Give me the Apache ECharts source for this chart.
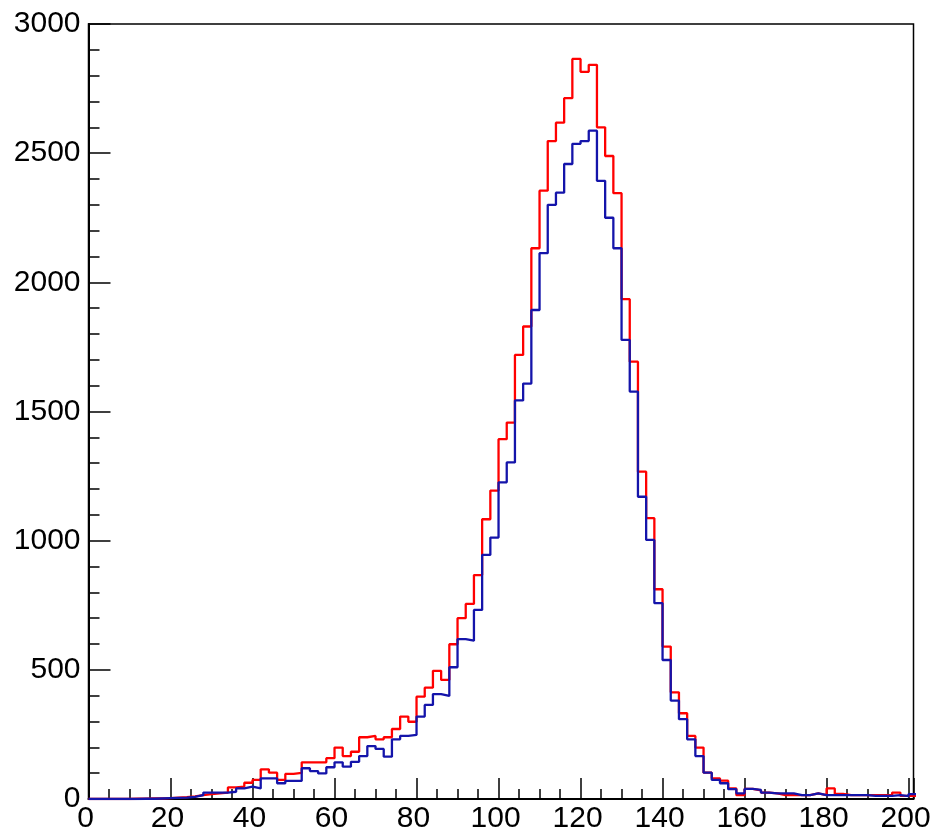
<!DOCTYPE html>
<html>
<head>
<meta charset="utf-8">
<script src="https://cdn.jsdelivr.net/npm/echarts@6/dist/echarts.min.js"></script>
<style>
html,body{margin:0;padding:0;background:#fff;}
#chart{width:932px;height:831px;}
</style>
</head>
<body>
<div id="chart"></div>
<script>
// Bin left edges: 0,2,4,...,200 (bin width 2)
const binWidth = 2;
const redCounts = [
  0,0,0,0,0,1,1,2,2,3,5,7,
  10,15,19,22,25,45,48,63,74,115,102,74,97,101,142,142,142,158,
  199,166,183,239,244,231,239,271,319,299,396,431,496,461,599,700,755,867,1083,1194,
  1393,1457,1719,1829,2132,2355,2547,2618,2713,2865,2815,2842,2600,2489,2345,1935,1693,1267,1087,812,
  590,413,332,244,199,102,80,71,41,15,39,33,25,22,15,15,15,15,22,15,
  41,20,15,15,15,15,15,15,25,12,12
];
const blueCounts = [
  0,0,0,0,0,0,1,1,2,3,4,5,
  8,15,25,25,25,28,41,48,41,80,80,61,70,70,119,108,99,123,
  142,125,144,166,205,194,164,231,244,248,319,364,406,399,510,619,613,732,945,1012,
  1226,1303,1543,1608,1893,2113,2300,2347,2458,2536,2547,2587,2393,2250,2132,1777,1577,1170,1003,758,
  538,381,309,231,166,102,74,61,38,22,39,35,25,22,22,22,15,15,22,15,
  15,15,15,15,15,12,12,12,15,11,19
];
const xTicks = [0,20,40,60,80,100,120,140,160,180,200];
const yTicks = [0,500,1000,1500,2000,2500,3000];

function toSteps(counts){
  const pts = counts.map((v,i)=>[i*binWidth, v]);
  pts.push([counts.length*binWidth, counts[counts.length-1]]);
  return pts;
}

const chart = echarts.init(document.getElementById('chart'), null, {renderer:'canvas'});
const font = {fontFamily:'Liberation Sans, Arial, Helvetica, sans-serif', fontSize:30, color:'#000'};
chart.setOption({
  animation:false,
  backgroundColor:'#fff',
  grid:{left:88.5, right:18.5, top:24, bottom:32, show:true, borderColor:'#000', borderWidth:1.5, backgroundColor:'transparent', containLabel:false, outerBoundsMode:'none'},
  xAxis:{
    type:'value', min:0, max:201.2, interval:20,
    axisLine:{show:true, onZero:false, lineStyle:{color:'#000', width:2}},
    axisTick:{show:true, inside:true, length:21, lineStyle:{color:'#000', width:1.5}},
    minorTick:{show:true, splitNumber:4, length:10, lineStyle:{color:'#000', width:1.5}},
    splitLine:{show:false},
    axisLabel:Object.assign({margin:5, padding:[0,6,0,0], formatter:function(v){return xTicks.indexOf(v)>=0 ? String(v) : '';}, showMaxLabel:true, showMinLabel:true}, font)
  },
  yAxis:{
    type:'value', min:0, max:3000, interval:500,
    axisLine:{show:true, onZero:false, lineStyle:{color:'#000', width:2}},
    axisTick:{show:true, inside:true, length:22, lineStyle:{color:'#000', width:1.5}},
    minorTick:{show:true, splitNumber:5, length:11, lineStyle:{color:'#000', width:1.5}},
    splitLine:{show:false},
    axisLabel:Object.assign({margin:8, formatter:function(v){return yTicks.indexOf(v)>=0 ? String(v) : '';}}, font)
  },
  series:[
    {type:'line', step:'end', data:toSteps(redCounts), showSymbol:false, symbol:'none', clip:true,
     lineStyle:{color:'#ff0000', width:2.3}, z:2},
    {type:'line', step:'end', data:toSteps(blueCounts), showSymbol:false, symbol:'none', clip:true,
     lineStyle:{color:'#1414aa', width:2.3}, z:3}
  ]
});
</script>
</body>
</html>
